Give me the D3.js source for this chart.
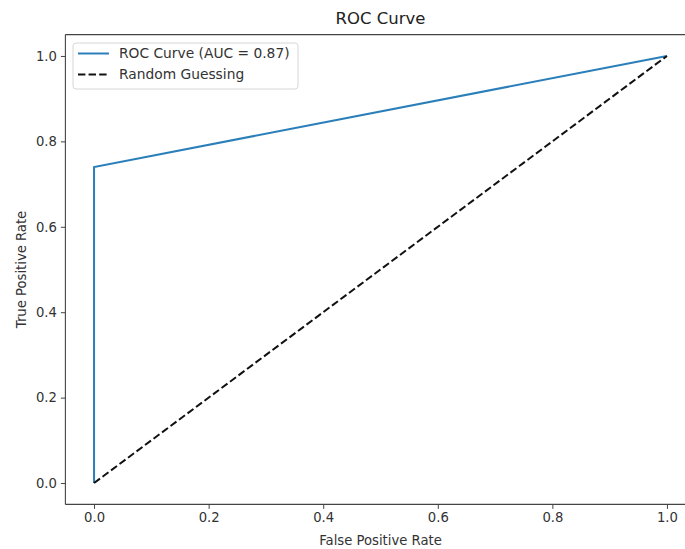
<!DOCTYPE html>
<html>
<head>
<meta charset="utf-8">
<script src="https://cdn.jsdelivr.net/npm/d3@7"></script>
<style>
  body { margin: 0; background: #fff; overflow: hidden; }
  svg { display: block; font-family: "DejaVu Sans", sans-serif; }
</style>
</head>
<body>
<svg id="chart" width="685" height="549"></svg>
<script>
/* DATA */
const rocFpr = [0, 0, 1];
const rocTpr = [0, 0.74, 1];
const randFpr = [0, 1];
const randTpr = [0, 1];
const xTicks = [0, 0.2, 0.4, 0.6, 0.8, 1.0];
const yTicks = [0, 0.2, 0.4, 0.6, 0.8, 1.0];
const legendLabels = ["ROC Curve (AUC = 0.87)", "Random Guessing"];

const svg = d3.select("#chart");

// axes box (right edge runs past the window, like the reference)
const box = { left: 65.4, right: 695.6, top: 34.6, bottom: 504.4 };

const x = d3.scaleLinear().domain([-0.05, 1.05]).range([box.left, box.right]);
const y = d3.scaleLinear().domain([-0.05, 1.05]).range([box.bottom, box.top]);

/* AXES */
const xAxis = svg.append("g")
  .attr("transform", `translate(0,${box.bottom})`)
  .call(d3.axisBottom(x).tickValues(xTicks).tickFormat(d3.format(".1f")).tickSizeOuter(0).tickSize(4.5).tickPadding(4));

const yAxis = svg.append("g")
  .attr("transform", `translate(${box.left},0)`)
  .call(d3.axisLeft(y).tickValues(yTicks).tickFormat(d3.format(".1f")).tickSizeOuter(0).tickSize(4.5).tickPadding(4));

[xAxis, yAxis].forEach(a => {
  a.select(".domain").remove();
  a.selectAll("text").attr("font-size", 13.2).attr("fill", "#333").attr("font-family", "DejaVu Sans");
  a.selectAll("line").attr("stroke", "#444");
});

// spines (left, top, bottom; the right one falls outside the picture)
const spines = [
  [box.left, box.top, box.left, box.bottom],
  [box.left, box.top, 685, box.top],
  [box.left, box.bottom, 685, box.bottom]
];
svg.selectAll(".spine")
  .data(spines)
  .enter()
  .append("line")
  .attr("class", "spine")
  .attr("x1", d => d[0]).attr("y1", d => d[1])
  .attr("x2", d => d[2]).attr("y2", d => d[3])
  .attr("stroke", "#444").attr("stroke-width", 1.1);

/* LINES */
const line = d3.line().x(d => x(d[0])).y(d => y(d[1]));

svg.append("path")
  .datum(rocFpr.map((v, i) => [v, rocTpr[i]]))
  .attr("d", line)
  .attr("fill", "none")
  .attr("stroke", "#2a7fba")
  .attr("stroke-width", 2);

svg.append("path")
  .datum(randFpr.map((v, i) => [v, randTpr[i]]))
  .attr("d", line)
  .attr("fill", "none")
  .attr("stroke", "#111")
  .attr("stroke-width", 2)
  .attr("stroke-dasharray", "7.4,3.2");

/* TEXT */
svg.append("text")
  .attr("x", (box.left + box.right) / 2).attr("y", 24)
  .attr("text-anchor", "middle")
  .attr("font-size", 16.5).attr("fill", "#222")
  .text("ROC Curve");

svg.append("text")
  .attr("x", (box.left + box.right) / 2).attr("y", 545)
  .attr("text-anchor", "middle")
  .attr("font-size", 13.2).attr("fill", "#333")
  .text("False Positive Rate");

svg.append("text")
  .attr("transform", `translate(26,${(box.top + box.bottom) / 2}) rotate(-90)`)
  .attr("text-anchor", "middle")
  .attr("font-size", 13.2).attr("fill", "#333")
  .text("True Positive Rate");

/* LEGEND */
const lg = svg.append("g").attr("transform", "translate(73,43)");
lg.append("rect")
  .attr("width", 225).attr("height", 46)
  .attr("rx", 3)
  .attr("fill", "#fff").attr("fill-opacity", 0.8)
  .attr("stroke", "#d6d6d6");

const styles = [
  { stroke: "#2a7fba", dash: null },
  { stroke: "#111", dash: "7.4,3.2" }
];

legendLabels.forEach((label, i) => {
  const cy = 10.5 + i * 21;
  lg.append("line")
    .attr("x1", 5).attr("x2", 36)
    .attr("y1", cy).attr("y2", cy)
    .attr("stroke", styles[i].stroke)
    .attr("stroke-width", 2)
    .attr("stroke-dasharray", styles[i].dash);
  lg.append("text")
    .attr("x", 46).attr("y", cy)
    .attr("dy", "0.35em")
    .attr("font-size", 13.8).attr("fill", "#333")
    .text(label);
});
</script>
</body>
</html>
